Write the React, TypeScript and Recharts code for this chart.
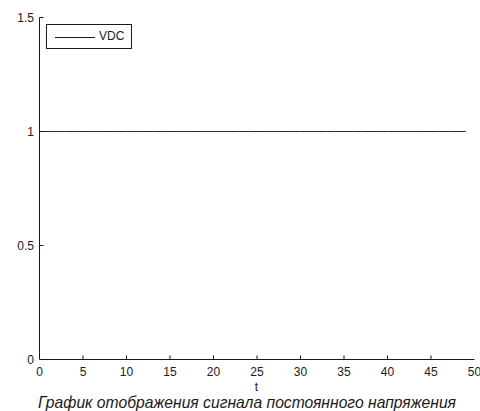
import { LineChart, Line, XAxis, YAxis } from 'recharts';

const tValues = [
  0, 1, 2, 3, 4, 5, 6, 7, 8, 9,
  10, 11, 12, 13, 14, 15, 16, 17, 18, 19,
  20, 21, 22, 23, 24, 25, 26, 27, 28, 29,
  30, 31, 32, 33, 34, 35, 36, 37, 38, 39,
  40, 41, 42, 43, 44, 45, 46, 47, 48, 49,
];
const vdcValues = [
  1, 1, 1, 1, 1, 1, 1, 1, 1, 1,
  1, 1, 1, 1, 1, 1, 1, 1, 1, 1,
  1, 1, 1, 1, 1, 1, 1, 1, 1, 1,
  1, 1, 1, 1, 1, 1, 1, 1, 1, 1,
  1, 1, 1, 1, 1, 1, 1, 1, 1, 1,
];
const xTicks = [0, 5, 10, 15, 20, 25, 30, 35, 40, 45, 50];
const yTicks = [0, 0.5, 1, 1.5];
const seriesName = 'VDC';
const xLabel = 't';
const caption = 'График отображения сигнала постоянного напряжения';

const data = tValues.map((t, i) => ({ t, vdc: vdcValues[i] }));

const FONT = '"Liberation Sans", Arial, sans-serif';
const INK = '#1a1a1a';

function XTick(props: any) {
  const { x, y, payload, index } = props;
  const last = index === xTicks.length - 1;
  return (
    <g>
      {index > 0 && !last && <line x1={x} x2={x} y1={y} y2={y - 4} stroke={INK} />}
      <text x={x} y={y + 16} textAnchor="middle" fontFamily={FONT} fontSize={12} fill={INK}>
        {payload.value}
      </text>
    </g>
  );
}

function YTick(props: any) {
  const { x, y, payload, index } = props;
  return (
    <g>
      {index > 0 && <line x1={x} x2={x + 4} y1={y} y2={y} stroke={INK} />}
      <text x={x - 5.5} y={y + 4} textAnchor="end" fontFamily={FONT} fontSize={12} fill={INK}>
        {payload.value}
      </text>
    </g>
  );
}

export default function App() {
  return (
    <div style={{ position: 'absolute', left: 0, top: 0, width: 480, height: 411, background: '#fff' }}>
      <LineChart
        width={480}
        height={411}
        data={data}
        margin={{ top: 17.5, right: 5.5, left: 38.5, bottom: 50.5 }}
      >
        <XAxis
          dataKey="t"
          type="number"
          domain={[0, 50]}
          ticks={xTicks}
          height={1}
          tickSize={0}
          tickMargin={0}
          tickLine={false}
          interval={0}
          stroke={INK}
          tick={(p: any) => <XTick {...p} />}
        />
        <YAxis
          type="number"
          domain={[0, 1.5]}
          ticks={yTicks}
          width={1}
          tickSize={0}
          tickMargin={0}
          tickLine={false}
          interval={0}
          stroke={INK}
          tick={(p: any) => <YTick {...p} />}
        />
        <Line
          type="linear"
          dataKey="vdc"
          name={seriesName}
          stroke="#2a2a2a"
          strokeWidth={1}
          dot={false}
          isAnimationActive={false}
        />
      </LineChart>
      <div
        style={{
          position: 'absolute',
          left: 46,
          top: 24,
          width: 84,
          height: 23,
          border: `1px solid ${INK}`,
          boxSizing: 'content-box',
        }}
      >
        <div style={{ position: 'absolute', left: 8, top: 12, width: 40, height: 1, background: INK }} />
        <div
          style={{
            position: 'absolute',
            left: 52,
            top: 4,
            fontFamily: FONT,
            fontSize: 12,
            lineHeight: '15px',
            color: INK,
          }}
        >
          {seriesName}
        </div>
      </div>
      <div
        style={{
          position: 'absolute',
          left: 0,
          width: 513,
          top: 380,
          textAlign: 'center',
          fontFamily: FONT,
          fontSize: 12,
          lineHeight: '14px',
          color: INK,
        }}
      >
        {xLabel}
      </div>
      <div
        style={{
          position: 'absolute',
          left: 0,
          width: 494,
          top: 394,
          textAlign: 'center',
          fontFamily: FONT,
          fontSize: 15.7,
          fontStyle: 'italic',
          lineHeight: '17px',
          color: INK,
          whiteSpace: 'nowrap',
        }}
      >
        {caption}
      </div>
    </div>
  );
}
